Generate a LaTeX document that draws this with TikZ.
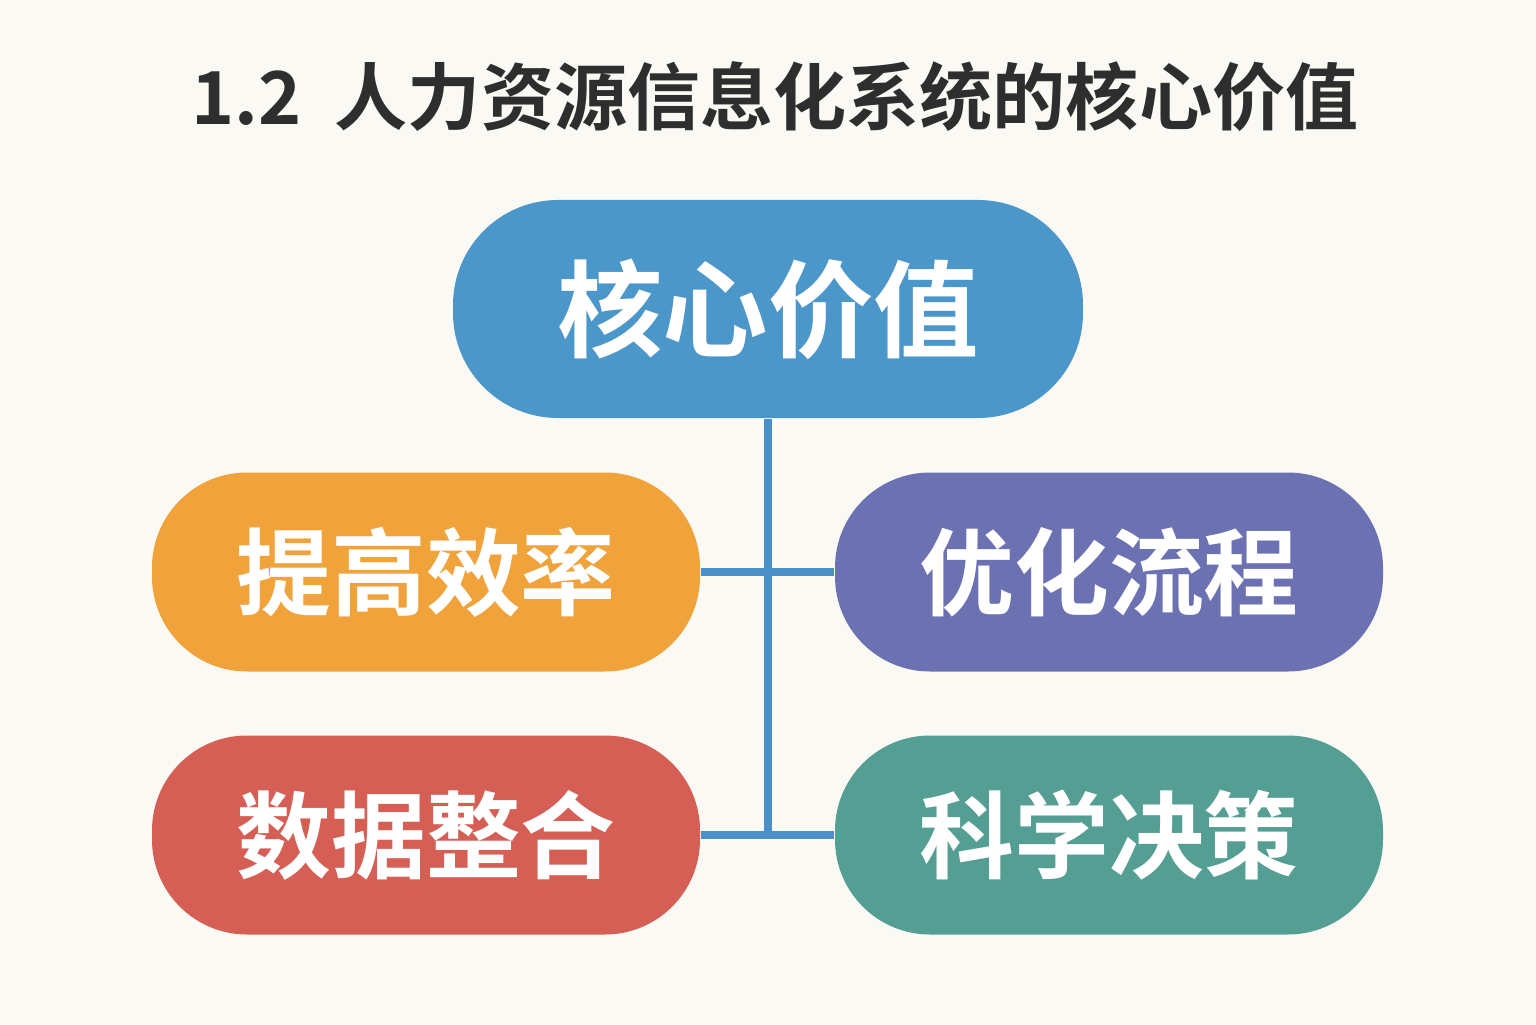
\documentclass[tikz,border=0pt]{standalone}
\usepackage{fontspec}
\newfontfamily\cjk{Noto Sans CJK SC}[BoldFont={Noto Sans CJK SC Bold}]
\definecolor{bgcol}{HTML}{FBF9F4}
\definecolor{titlecol}{HTML}{2E2E2E}
\definecolor{corecol}{HTML}{4B97CA}
\definecolor{linecol}{HTML}{4A90C8}
\definecolor{effcol}{HTML}{F0A23B}
\definecolor{optcol}{HTML}{6B71B1}
\definecolor{datacol}{HTML}{D55E55}
\definecolor{scicol}{HTML}{549E93}
\tikzset{
  valbox/.style={rounded corners=0.95cm, minimum width=5.48cm, minimum height=1.99cm,
    inner sep=0pt, text=white, font=\cjk\bfseries\fontsize{27}{30}\selectfont},
  link/.style={linecol, line width=2.3pt}
}

\begin{document}
\begin{tikzpicture}
    % 背景
    \fill[bgcol] (0,0) rectangle (15.36,10.24);
    \useasboundingbox (0,0) rectangle (15.36,10.24);

    % 标题
    \node[text=titlecol, font=\cjk\bfseries\fontsize{20.8}{24}\selectfont] (title) at (7.75,9.27)
        {1.2\ \ 人力资源信息化系统的核心价值};

    % 核心节点
    \node[fill=corecol, rounded corners=1.05cm, minimum width=6.30cm, minimum height=2.18cm,
        inner sep=0pt, text=white, font=\cjk\bfseries\fontsize{30}{33}\selectfont] (core) at (7.68,7.15) {核心价值};

    % 四个价值
    \node[valbox, fill=effcol] (eff) at (4.26,4.52) {提高效率};
    \node[valbox, fill=optcol] (opt) at (11.09,4.52) {优化流程};
    \node[valbox, fill=datacol] (data) at (4.26,1.89) {数据整合};
    \node[valbox, fill=scicol] (sci) at (11.09,1.89) {科学决策};

    % 连线
    \coordinate (J) at (core.south |- data.east);
    \draw[link] (core.south) -- (J);
    \draw[link] (eff.east) -- (opt.west);
    \draw[link] (data.east) -- (sci.west);
\end{tikzpicture}
\end{document}
